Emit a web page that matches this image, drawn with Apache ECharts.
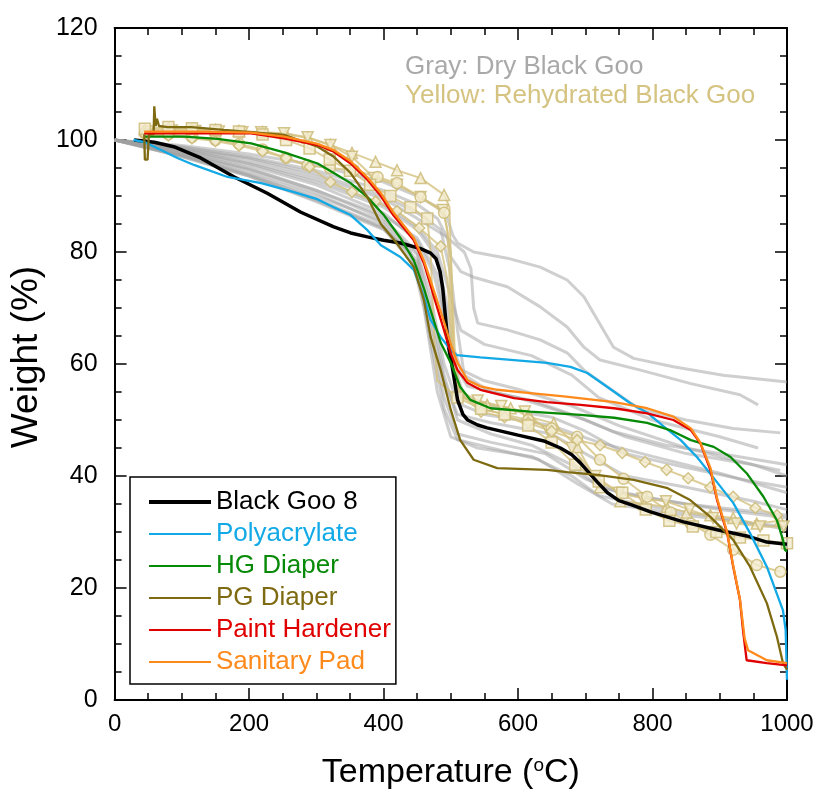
<!DOCTYPE html>
<html>
<head>
<meta charset="utf-8">
<script src="https://cdn.jsdelivr.net/npm/echarts@6/dist/echarts.min.js"></script>
<style>
html,body{margin:0;padding:0;background:#fff;}
#chart{width:819px;height:799px;}
</style>
</head>
<body>
<div id="chart"></div>
<script>
// ---------- DATA ----------
const xTicks = [0, 200, 400, 600, 800, 1000];
const yTicks = [0, 20, 40, 60, 80, 100, 120];

const blackGoo8 = [[29,100],[59,99.6],[88,98.8],[128,96.8],[178,93.4],[227,90.5],[277,87.1],[326,84.5],[351,83.4],[376,82.7],[400,82.1],[425,81.6],[455,80.6],[470,79.8],[478,78.8],[484,76.5],[488,73.5],[492,68.5],[496,63.5],[503,58.9],[510,53.6],[518,51],[525,50],[540,49.1],[554,48.6],[600,47.3],[640,46.2],[663,45],[680,43.8],[693,42.3],[706,40.5],[718,38.9],[733,37],[750,35.6],[770,34.8],[797,33.6],[846,31.8],[896,30.4],[940,29.3],[970,28.2],[1000,27.8]];

const polyacrylate = [[28,100],[45,99.6],[69,98.2],[95,96.7],[119,95.5],[168,93.4],[218,92.3],[267,90.7],[300,89.5],[326,88],[351,86.6],[376,83.9],[396,81.2],[425,79.1],[445,76.8],[460,72],[470,67.9],[485,64.8],[500,62.5],[509,61.6],[544,61.2],[594,60.7],[643,60.2],[678,59.5],[703,58.4],[733,55.9],[767,53],[792,51.3],[817,48.8],[842,46.4],[866,43.4],[890,39.8],[920,35.2],[945,29.8],[970,23.8],[994,16],[998,12.5],[1000,3.6]];

const hgDiaper = [[44,100.6],[104,100.6],[153,100.2],[203,99.4],[252,97.8],[302,95.8],[326,94.1],[351,92.3],[376,89.8],[401,86.5],[425,82.5],[445,78.5],[460,73.5],[470,69.6],[485,63.8],[500,60.2],[514,55.9],[529,53.6],[559,52.1],[618,51.5],[693,50.9],[743,50.4],[792,49.5],[826,48.2],[857,46.4],[891,45.2],[916,43.4],[940,40.5],[965,36.3],[985,32.1],[994,28.6],[997,26.8],[1000,26.5]];

const pgDiaper = [[44,101],[45,96.5],[49,96.5],[51,101],[58,101],[59,106],[61,102.5],[63,103.8],[66,102.5],[79,102.3],[114,102.3],[162,101.8],[203,101.4],[252,100.9],[302,98.8],[326,97],[351,94.1],[376,89.8],[396,85],[420,81.5],[445,77.3],[460,71.4],[470,64.8],[485,58.9],[500,51.8],[514,46.4],[534,42.9],[569,41.4],[643,41.1],[673,40.7],[718,40.2],[772,39.3],[821,37.9],[856,35.7],[886,32.7],[920,28.6],[945,23.8],[970,17.3],[985,11.3],[994,6.6],[1000,5.4]];

const paintHardener = [[44,101.2],[128,101.2],[203,101.2],[252,100.3],[302,99.1],[326,97.9],[351,95.8],[376,92.9],[396,90],[415,86.5],[445,82.1],[460,78],[475,72],[490,66],[500,61.9],[510,58.9],[525,56.6],[544,55.4],[594,53.9],[643,53.2],[693,52.7],[743,52.1],[792,51.2],[831,50],[857,48.2],[871,45.9],[886,41.1],[896,35.7],[911,29.8],[920,23.8],[930,17.9],[935,12],[940,7.1],[970,6.6],[1000,6.2]];

const sanitaryPad = [[44,101.5],[128,101.5],[203,101.3],[252,100.6],[302,99.3],[326,98.2],[351,96.2],[376,93.3],[396,90.5],[415,87],[445,82.5],[460,78.5],[475,73],[490,67.5],[500,63.5],[510,60.2],[525,57.1],[544,56],[569,55.4],[618,54.8],[668,54.2],[743,53.2],[792,52.1],[831,50.6],[857,48.5],[871,46],[886,41.5],[896,36],[911,30],[920,24],[930,18],[937,11],[942,8.9],[970,7.1],[1000,6.6]];

// Gray: dry Black Goo samples
const grayDry = [
 [[0,100],[100,99],[200,97.5],[300,95.5],[400,92.5],[450,90],[480,88],[495,86],[503,83],[510,81.6],[534,80],[584,78.9],[633,77.3],[673,75],[698,72],[718,67.9],[742,63],[772,61],[831,59.5],[905,58],[1000,56.8]],
 [[0,100],[100,98.8],[200,97],[300,94.5],[400,91],[450,88.5],[480,86],[495,82.5],[500,79.1],[515,76.5],[534,75.5],[584,73.8],[633,70.2],[673,66.6],[698,63],[722,60.7],[782,58.9],[857,56.5],[930,54.5],[957,52.7]],
 [[0,100],[100,98.5],[200,96.5],[300,93.5],[400,89.5],[450,86],[490,83],[520,80],[530,77],[534,70],[540,67.3],[584,66.1],[633,64.3],[673,62],[698,58.9],[733,55.9],[780,52],[850,50],[920,48.5],[990,47.7]],
 [[0,100],[100,98.3],[200,96],[300,93],[400,88.5],[450,84.5],[480,80],[500,72],[515,66],[550,63.5],[620,61.5],[680,58],[720,54],[800,50],[900,47],[957,45]],
 [[0,100],[100,98],[200,95.5],[300,92],[400,87],[450,82],[475,76],[495,66],[515,59],[550,57],[600,55.5],[680,52.5],[750,49],[850,45],[950,42],[990,41]],
 [[0,100],[100,97.8],[200,95],[300,91],[400,86],[450,80],[470,72],[490,60],[510,53],[550,51],[650,49],[720,46],[800,43.5],[900,40.5],[1000,37]],
 [[0,100],[100,97.5],[200,94.5],[300,90.5],[400,85],[450,78.5],[470,68],[490,57],[510,51],[560,49.5],[650,47.5],[700,44],[760,40],[850,38],[950,35.5],[1000,34]],
 [[0,100],[100,97.3],[200,94],[300,90],[400,85.5],[450,79.5],[470,70],[490,58],[510,50],[560,47.5],[620,45.5],[680,42],[720,38],[800,36],[900,34],[1000,32.5]],
 [[0,100],[100,97],[200,93.5],[300,89],[400,84],[440,80],[460,70],[480,55],[500,47],[540,45],[620,43.5],[680,40],[720,36.5],[800,34.5],[900,32.5],[1000,30.5]],
 [[0,100],[100,97.2],[200,93.8],[300,89.5],[400,84.5],[450,78],[470,66],[490,54],[510,47.5],[560,46],[640,44],[700,39.5],[750,37],[850,35],[1000,33]],
 [[0,100],[100,98.6],[200,96.8],[300,94],[400,90],[450,87],[485,84],[500,76],[510,66],[520,58],[560,55],[620,53.5],[680,51],[740,48],[820,45.5],[900,44],[1000,42]],
 [[0,100],[100,97.6],[200,94.8],[300,91],[400,86.5],[450,82.5],[480,76],[500,62],[520,54],[580,52],[650,50.5],[700,48],[760,44],[850,41.5],[950,39],[1000,38]],
 [[0,100],[100,97.1],[200,93.6],[300,89.2],[400,84.2],[450,77],[470,64],[490,52],[510,46.5],[560,45],[630,43],[690,38.5],[740,35],[850,33],[950,31.5],[1000,31]],
 [[0,100],[100,98.2],[200,95.8],[300,92.5],[400,88],[450,84],[480,79],[495,70],[505,60],[525,56],[600,54],[700,50],[760,47],[850,44],[950,42],[1000,40]]
];

// Yellow: rehydrated Black Goo samples (third value 0 = point without marker)
const yellowTriUp = [[45,101.8],[80,102],[115,101.9],[150,101.8],[185,101.6],[220,101.4],[255,101],[287,100.4],[321,99.1],[353,97.7],[388,96.1],[420,94.6],[455,93.2],[490,90.2],[498,88,0],[502,70,0],[506,58,0],[515,54,0],[554,52.7],[589,52.1],[618,50.5],[653,49.4],[688,45.2],[722,38],[752,35.5],[787,35],[821,34.5],[851,33.5],[886,33],[920,32.5],[955,31.5],[990,32]];
const yellowTriDown = [[50,101.5],[85,101.7],[120,101.6],[155,101.5],[190,101.4],[218,101.4],[252,101.2],[287,100.5],[321,99.1],[353,97],[386,93.2],[420,92],[455,89.8],[488,87.5],[495,84,0],[500,70,0],[505,60,0],[515,55,0],[540,53.5],[575,52.5],[610,51.5],[645,48],[680,45],[715,40],[750,37],[785,36],[820,35.5],[855,34],[890,32.5],[925,31.5],[960,31],[995,31]];
const yellowCircle = [[45,101.2],[80,101],[115,100.5],[150,100],[185,99.3],[220,98.3],[255,96.8],[287,95.5],[320,95],[356,94.6],[391,93.4],[420,92.3],[455,89.8],[490,87],[500,80,0],[506,62,0],[512,55,0],[545,52],[580,51],[615,50],[650,48.5],[688,47],[722,42.9],[757,39.5],[792,36.3],[827,33.5],[857,31.5],[886,29.5],[920,26.8],[955,24.1],[990,22.9]];
const yellowDiamond = [[45,101],[80,100.8],[115,100.3],[150,99.8],[185,99],[220,98],[255,96.8],[290,95.2],[321,92.5],[353,90.7],[388,89],[420,87.3],[453,84.3],[485,81],[495,75,0],[502,62,0],[510,55,0],[545,51.5],[580,50.5],[615,49.5],[650,48],[688,46.4],[722,45.5],[755,44.1],[789,42.5],[821,41.1],[853,39.6],[886,38],[920,36.3],[953,34.3],[985,33]];
const yellowSquare = [[45,102],[80,102.3],[115,102.1],[150,101.8],[185,101.5],[220,101],[255,100],[290,98.5],[320,96.5],[350,94.5],[380,92],[410,90],[440,88],[465,86],[470,80,0],[475,65,0],[480,57,0],[510,54],[545,52],[580,51],[615,49],[650,46],[685,42],[720,39],[755,37],[790,34],[825,32],[860,31],[895,30],[930,29],[965,28.5],[1000,28]];

const mainNames = ['Black Goo 8','Polyacrylate','HG Diaper','PG Diaper','Paint Hardener','Sanitary Pad'];
const mainColors = ['#000000','#12a9e6','#078a07','#7e6a10','#e10000','#ff8a1c'];
const mainData = [blackGoo8, polyacrylate, hgDiaper, pgDiaper, paintHardener, sanitaryPad];
const mainWidths = [3.5, 2.3, 2.3, 2.3, 2.3, 2.3];
const legendWidths = [4, 2, 2, 2, 2, 2];

// ---------- CHART ----------
const FONT = '"Liberation Sans", Arial, Helvetica, sans-serif';
const chart = echarts.init(document.getElementById('chart'), null, {renderer: 'canvas'});

const series = [];
grayDry.forEach(d => series.push({
  type: 'line', data: d, symbol: 'none', silent: true, z: 1,
  lineStyle: {color: 'rgba(160,160,160,0.5)', width: 3}
}));
const yellowDefs = [
  [yellowTriUp, 'triangle', 0],
  [yellowTriDown, 'triangle', 180],
  [yellowCircle, 'circle', 0],
  [yellowDiamond, 'diamond', 0],
  [yellowSquare, 'rect', 0]
];
yellowDefs.forEach(([d, sym, rot]) => series.push({
  type: 'line', symbol: sym, symbolRotate: rot, symbolSize: 11, showAllSymbol: true, silent: true, z: 2,
  data: d.map(p => (p.length > 2 && p[2] === 0) ? {value: [p[0], p[1]], symbol: 'none'} : [p[0], p[1]]),
  lineStyle: {color: 'rgba(212,194,128,0.8)', width: 2},
  itemStyle: {color: 'rgba(242,235,206,0.8)', borderColor: 'rgba(205,187,120,0.85)', borderWidth: 1.5}
}));
const order = [0,1,2,3,5,4];
order.forEach(i => series.push({
  name: mainNames[i], type: 'line', data: mainData[i], symbol: 'none', z: 3 + i,
  lineStyle: {color: mainColors[i], width: mainWidths[i]},
  itemStyle: {color: mainColors[i]}
}));

const axisCommon = {
  type: 'value',
  axisLine: {show: true, onZero: false, lineStyle: {color: '#000', width: 2}},
  axisTick: {show: true, inside: true, length: 12, lineStyle: {color: '#000', width: 1.5}},
  minorTick: {show: true, splitNumber: 4, length: 7, lineStyle: {color: '#000', width: 1.5}},
  splitLine: {show: false},
  minorSplitLine: {show: false}
};
const plain = v => String(v);

chart.setOption({
  animation: false,
  backgroundColor: '#fff',
  textStyle: {fontFamily: FONT},
  grid: {left: 113, right: 32, top: 28, bottom: 99, containLabel: false},
  xAxis: [
    Object.assign({}, axisCommon, {
      min: xTicks[0], max: xTicks[xTicks.length-1], interval: xTicks[1]-xTicks[0], position: 'bottom',
      axisLabel: {fontSize: 24, color: '#000', margin: 12, fontFamily: FONT, formatter: plain},
      name: 'Temperature ({sup|o}C)', nameLocation: 'middle', nameGap: 56,
      nameTextStyle: {fontSize: 34, color: '#000', fontFamily: FONT,
        rich: {sup: {fontSize: 19, color: '#000', verticalAlign: 'top', padding: [0,0,15,0], fontFamily: FONT}}}
    }),
    Object.assign({}, axisCommon, {
      min: xTicks[0], max: xTicks[xTicks.length-1], interval: xTicks[1]-xTicks[0], position: 'top',
      axisLabel: {show: false}
    })
  ],
  yAxis: [
    Object.assign({}, axisCommon, {
      min: yTicks[0], max: yTicks[yTicks.length-1], interval: yTicks[1]-yTicks[0], position: 'left',
      axisLabel: {fontSize: 25, color: '#000', margin: 17, fontFamily: FONT, formatter: plain},
      name: 'Weight (%)', nameLocation: 'middle', nameGap: 50,
      nameTextStyle: {fontSize: 37, color: '#000', fontFamily: FONT, padding: [0, 0, 0, 14]}
    }),
    Object.assign({}, axisCommon, {
      min: yTicks[0], max: yTicks[yTicks.length-1], interval: yTicks[1]-yTicks[0], position: 'right',
      axisLabel: {show: false}
    })
  ],
  legend: {
    show: true, orient: 'vertical', left: 130, top: 477,
    backgroundColor: '#fff', borderColor: '#000', borderWidth: 1.5, borderRadius: 0,
    padding: [12, 5, 9, 17],
    itemWidth: 62, itemHeight: 14, itemGap: 6,
    itemStyle: {opacity: 0},
    textStyle: {fontSize: 26, lineHeight: 26, fontFamily: FONT},
    data: mainNames.map((n, i) => ({name: n, textStyle: {color: mainColors[i]}, itemStyle: {opacity: 0},
      lineStyle: {width: legendWidths[i], color: mainColors[i]}}))
  },
  graphic: [
    {type: 'text', left: 405, top: 54, silent: true,
     style: {text: 'Gray: Dry Black Goo', fontSize: 26, fontFamily: FONT, fill: '#a9a9a9'}},
    {type: 'text', left: 405, top: 83, silent: true,
     style: {text: 'Yellow: Rehydrated Black Goo', fontSize: 26, fontFamily: FONT, fill: '#d5c381'}}
  ],
  series: series
});
</script>
</body>
</html>
